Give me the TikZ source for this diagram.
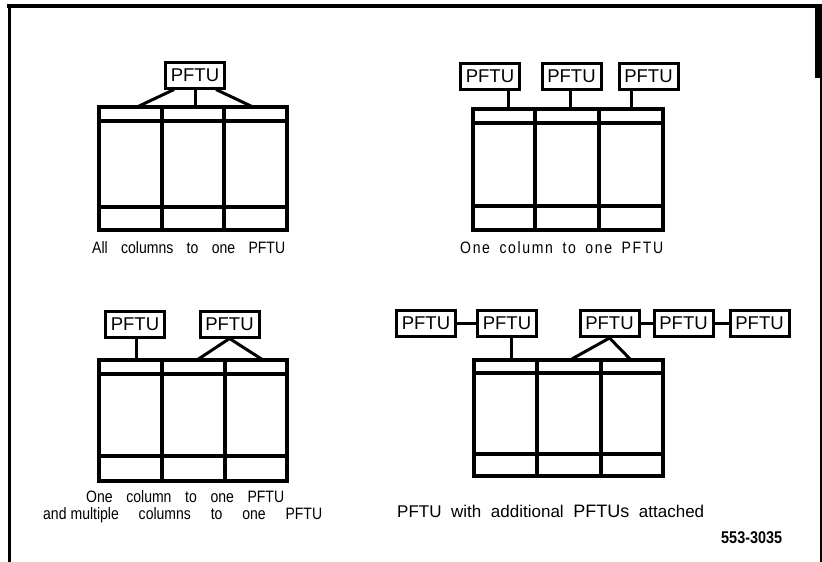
\documentclass[tikz,border=0pt]{standalone}
\usepackage{fontspec}
\setmainfont{Liberation Sans}
\newfontfamily\narrowsf[FakeStretch=0.85]{Liberation Sans}
\def\cabinet(#1,#2)(#3,#4)(#5,#6)(#7,#8){%
  \draw[frame] (#1,#2) rectangle (#3,#4);
  \draw[frame] (#5,#2) -- (#5,#4) (#6,#2) -- (#6,#4) (#1,#7) -- (#3,#7) (#1,#8) -- (#3,#8);}
\begin{document}
\begin{tikzpicture}[x=1pt,y=-1pt,
  pftu/.style={draw, line width=3pt, minimum width=59pt, minimum height=26pt, inner sep=0pt, font=\fontsize{18.5}{18}\selectfont},
  frame/.style={line width=3.3pt},
  link/.style={line width=3pt},
  captext/.style={anchor=base west, inner sep=0pt, font=\narrowsf\fontsize{16.5}{18}\selectfont}]
\useasboundingbox (0,0) rectangle (822,562);
\fill[white] (0,0) rectangle (822,562);
% border
\draw[line width=4pt] (7,6) -- (822,6);
\draw[line width=3pt] (9.5,4) -- (9.5,562);
\draw[line width=5pt] (817.5,8) -- (817.5,78);
\draw[line width=2pt] (820.5,8) -- (820.5,562);

% panel 1
\node[pftu] (a) at (195,75) {PFTU};
\cabinet(99,107)(287,230)(162,224)(121,207)
\coordinate (a1) at (137,107);
\coordinate (a2) at (195,107);
\coordinate (a3) at (253,107);
\draw[link] ([xshift=-21pt]a.south) -- (a1);
\draw[link] (a.south) -- (a2);
\draw[link] ([xshift=21pt]a.south) -- (a3);
\node[captext] (t1) at (92,253) {\makebox[193pt][s]{All columns to one PFTU}};

% panel 2
\node[pftu] (b1) at (490,76) {PFTU};
\node[pftu] (b2) at (571.5,76) {PFTU};
\node[pftu] (b3) at (648.5,76) {PFTU};
\cabinet(473,109)(663,230)(535,599)(123,206)
\coordinate (b1f) at (508,109);
\coordinate (b2f) at (570,109);
\coordinate (b3f) at (631,109);
\draw[link] (b1f |- b1.south) -- (b1f);
\draw[link] (b2f |- b2.south) -- (b2f);
\draw[link] (b3f |- b3.south) -- (b3f);
\node[captext, font=\narrowsf\fontsize{16.5}{18}\selectfont\addfontfeature{LetterSpace=10}] (t2) at (460,253) {\makebox[203pt][s]{One column to one PFTU}};

% panel 3
\node[pftu] (c1) at (135,324) {PFTU};
\node[pftu] (c2) at (229.5,324) {PFTU};
\cabinet(99,360)(287,481)(162,225)(374,456)
\coordinate (c1f) at (136,360);
\coordinate (c2l) at (197,360);
\coordinate (c2r) at (263,360);
\draw[link] (c1f |- c1.south) -- (c1f);
\draw[link] (c2.south) -- (c2l);
\draw[link] (c2.south) -- (c2r);
\node[captext] (t3) at (86,502) {\makebox[198pt][s]{One column to one PFTU}};
\node[captext] (t4) at (43,519) {\makebox[279pt][s]{and\hspace{4pt}multiple columns to one PFTU}};

% panel 4
\node[pftu] (d1) at (426,323.5) {PFTU};
\node[pftu] (d2) at (507,323.5) {PFTU};
\node[pftu] (d3) at (609.5,323.5) {PFTU};
\node[pftu] (d4) at (683.5,323.5) {PFTU};
\node[pftu] (d5) at (759.5,323.5) {PFTU};
\draw[link] (d1.east) -- (d2.west);
\draw[link] (d3.east) -- (d4.west);
\draw[link] (d4.east) -- (d5.west);
\cabinet(474,360)(663,476)(537,601)(373,454)
\coordinate (d2f) at (511,360);
\coordinate (d3l) at (570,360);
\coordinate (d3r) at (631,360);
\draw[link] (d2f |- d2.south) -- (d2f);
\draw[link] (d3.south) -- (d3l);
\draw[link] (d3.south) -- (d3r);
\node[captext, font=\fontsize{17}{18}\selectfont] (t5) at (397,517) {\makebox[307pt][s]{PFTU with additional {\fontsize{18}{18}\selectfont PFTUs} attached}};
\node[captext, font=\narrowsf\bfseries\fontsize{17}{18}\selectfont] (t6) at (721,543) {553-3035};
\end{tikzpicture}
\end{document}
